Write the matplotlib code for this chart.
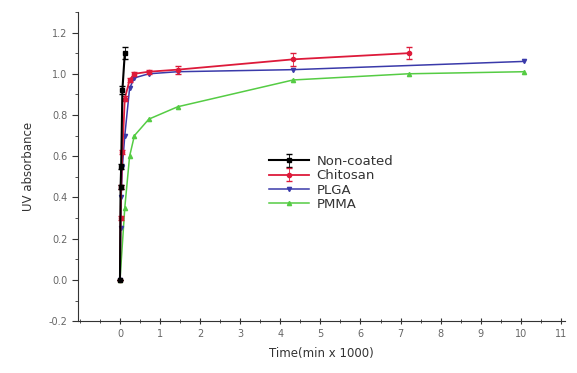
import numpy as np
import matplotlib
matplotlib.use("Agg")
import matplotlib.pyplot as plt
from matplotlib.ticker import MultipleLocator

# time in min x 1000
t_non = [0, 0.015, 0.03, 0.06, 0.12]
y_non = [0, 0.45, 0.55, 0.92, 1.10]
e_non = [0, 0.01, 0.01, 0.02, 0.03]

t_chi = [0, 0.015, 0.03, 0.06, 0.12, 0.24, 0.36, 0.72, 1.44, 4.32, 7.2]
y_chi = [0, 0.30, 0.45, 0.62, 0.88, 0.97, 1.00, 1.01, 1.02, 1.07, 1.10]
e_chi = [0, 0.01, 0.01, 0.01, 0.01, 0.01, 0.01, 0.01, 0.02, 0.03, 0.03]

t_plga = [0, 0.015, 0.03, 0.06, 0.12, 0.24, 0.36, 0.72, 1.44, 4.32, 10.08]
y_plga = [0, 0.25, 0.40, 0.55, 0.70, 0.93, 0.98, 1.00, 1.01, 1.02, 1.06]

t_pmma = [0, 0.12, 0.24, 0.36, 0.72, 1.44, 4.32, 7.2, 10.08]
y_pmma = [0, 0.35, 0.60, 0.70, 0.78, 0.84, 0.97, 1.00, 1.01]

fig = plt.figure(figsize=(5.77, 3.73), dpi=100)
ax = fig.add_axes([0.135, 0.139, 0.844, 0.829])

ax.plot(t_pmma, y_pmma, color="#55cc44", marker="^", ms=3, lw=1.1, label="PMMA", zorder=2)
ax.plot(t_plga, y_plga, color="#3a3aaa", marker="v", ms=3, lw=1.1, label="PLGA", zorder=3)
ax.errorbar(t_chi, y_chi, yerr=e_chi, color="#dd1a3a", marker="o", ms=3, lw=1.3,
            capsize=2, elinewidth=0.6, label="Chitosan", zorder=4)
ax.errorbar(t_non, y_non, yerr=e_non, color="black", marker="s", ms=3, lw=1.5,
            capsize=2, elinewidth=0.6, label="Non-coated", zorder=5)

ax.set_xlim(-1.05, 11.1)
ax.set_ylim(-0.2, 1.3)
ax.xaxis.set_minor_locator(MultipleLocator(0.5))
ax.yaxis.set_minor_locator(MultipleLocator(0.1))
ax.set_xticks(range(0, 12))
ax.set_yticks(np.round(np.arange(-0.2, 1.21, 0.2), 1))
ax.set_yticklabels([f"{v:.1f}" for v in np.arange(-0.2, 1.21, 0.2)])

for s in ["top", "right"]:
    ax.spines[s].set_visible(False)
ax.spines["left"].set_color("#333333")
ax.spines["bottom"].set_color("#333333")
ax.tick_params(axis="x", which="both", direction="inout", colors="#333333", labelsize=7, labelcolor="#666666")
ax.tick_params(axis="y", which="both", direction="out", colors="#333333", labelsize=7, labelcolor="#666666")
ax.tick_params(which="major", length=4)
ax.tick_params(which="minor", length=2.5)

ax.set_xlabel("Time(min x 1000)", fontsize=8.5, color="#333333", labelpad=6)
ax.set_ylabel("UV absorbance", fontsize=8.5, color="#333333", labelpad=10)

h, l = ax.get_legend_handles_labels()
order = [3, 2, 1, 0]
ax.legend([h[i] for i in order], [l[i] for i in order], frameon=False, fontsize=9.5,
          loc="center", bbox_to_anchor=(0.52, 0.447), handlelength=3.0,
          labelspacing=0.1, handletextpad=0.6, labelcolor="#333333")

fig.savefig("out.png", dpi=100)
